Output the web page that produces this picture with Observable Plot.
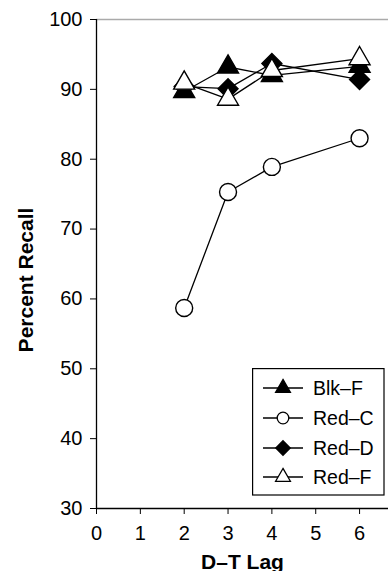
<!DOCTYPE html>
<html><head><meta charset="utf-8">
<script src="https://cdn.jsdelivr.net/npm/d3@7"></script>
<script src="https://cdn.jsdelivr.net/npm/@observablehq/plot@0.6"></script>
<style>
body{margin:0;background:#fff;}
#wrap{position:relative;width:388px;height:571px;overflow:hidden;font-family:"Liberation Sans",Arial,sans-serif;}
#legend{position:absolute;left:252px;top:368px;}
</style></head><body><div id="wrap"></div>
<script>
const lags = [2, 3, 4, 6];
const seriesNames = ["Blk–F", "Red–C", "Red–D", "Red–F"];
const blkF = [89.7, 93.2, 92.0, 93.3];
const redC = [58.7, 75.3, 78.9, 83.0];
const redD = [90.4, 90.1, 93.7, 91.4];
const redF = [90.9, 88.6, 92.7, 94.4];
const xTicks = [0, 1, 2, 3, 4, 5, 6];
const yTicks = [30, 40, 50, 60, 70, 80, 90, 100];

const seriesValues = [blkF, redC, redD, redF];
const styles = [
  {symbol: "triangle", fill: "black", r: 7.8, lr: 5.5, sym: d3.symbolTriangle},
  {symbol: "circle", fill: "white", r: 8.5, lr: 5.8, sym: d3.symbolCircle},
  {symbol: "diamond2", fill: "black", r: 9, lr: 6.5, sym: d3.symbolDiamond2},
  {symbol: "triangle", fill: "white", r: 7.8, lr: 5.5, sym: d3.symbolTriangle}
];
const rows = seriesNames.flatMap((s, i) => lags.map((l, j) => ({series: s, lag: l, value: seriesValues[i][j]})));

const dotMarks = seriesNames.map((s, i) => Plot.dot(rows.filter(d => d.series === s), {
  x: "lag", y: "value", symbol: () => styles[i].symbol, r: styles[i].r,
  fill: styles[i].fill, stroke: "black", strokeWidth: 1.4
}));

const chart = Plot.plot({
  width: 388, height: 571,
  marginLeft: 96, marginRight: 0, marginTop: 19, marginBottom: 63,
  style: {fontFamily: '"Liberation Sans", Arial, sans-serif', fontSize: "20px", color: "black", background: "transparent"},
  x: {domain: [0, 6.66]},
  y: {domain: [30, 100]},
  symbol: {type: "identity"},
  marks: [
    Plot.ruleY([100], {stroke: "#aaa", strokeWidth: 1.5}),
    Plot.ruleY([30], {stroke: "black", strokeWidth: 1.3}),
    Plot.ruleX([0], {stroke: "black", strokeWidth: 1.3}),
    Plot.axisX({ticks: xTicks, tickFormat: d => d, tickSize: 6, tickPadding: 11, fontSize: 20,
      label: "D–T Lag", labelAnchor: "center", labelArrow: "none", labelOffset: 60}),
    Plot.axisY({ticks: yTicks, tickSize: 6, tickPadding: 8, fontSize: 20,
      label: "Percent Recall", labelAnchor: "center", labelArrow: "none", labelOffset: 78}),
    Plot.line(rows, {x: "lag", y: "value", z: "series", stroke: "black", strokeWidth: 1.3}),
    ...dotMarks
  ]
});
// bold axis labels
chart.querySelectorAll("g[aria-label='x-axis label'] text, g[aria-label='y-axis label'] text").forEach(t => {
  t.setAttribute("font-weight", "bold"); t.setAttribute("font-size", "21");
});
// shift y label down (along rotated direction)
chart.querySelectorAll("g[aria-label='y-axis label'] text").forEach(t => {
  t.setAttribute("dx", "-16");
});
document.getElementById("wrap").appendChild(chart);

// legend
const lw = 133, lh = 128;
const leg = d3.select("#wrap").append("svg").attr("id", "legend").attr("width", lw).attr("height", lh);
leg.append("rect").attr("x", 0.6).attr("y", 0.6).attr("width", lw - 1.6).attr("height", lh - 1.6)
  .attr("fill", "white").attr("stroke", "black").attr("stroke-width", 1.2);
const ly = [20, 50, 80, 109];
seriesNames.forEach((s, i) => {
  const g = leg.append("g").attr("transform", `translate(0,${ly[i]})`);
  g.append("line").attr("x1", 11).attr("x2", 51).attr("stroke", "black").attr("stroke-width", 1.3);
  g.append("path").attr("transform", "translate(31,0)")
    .attr("d", d3.symbol(styles[i].sym, Math.PI * styles[i].lr * styles[i].lr)())
    .attr("fill", styles[i].fill).attr("stroke", "black").attr("stroke-width", 1.3);
  g.append("text").attr("x", 61).attr("dy", "0.35em").attr("font-size", 19.5)
    .attr("font-family", '"Liberation Sans", Arial, sans-serif').text(s);
});
</script></body></html>
